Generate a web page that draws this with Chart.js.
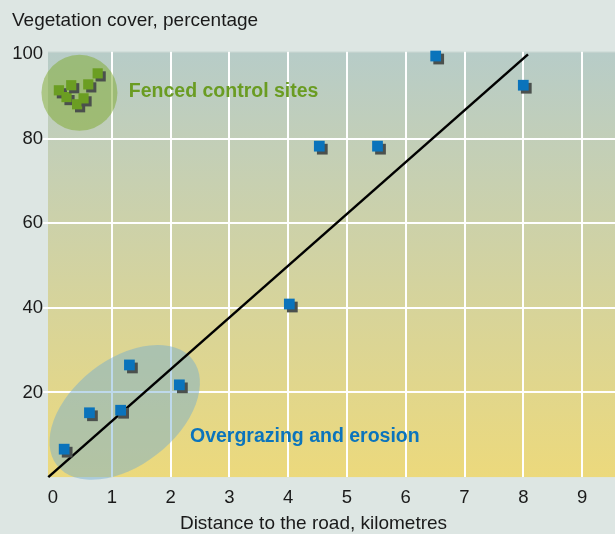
<!DOCTYPE html>
<html>
<head>
<meta charset="utf-8">
<script src="https://cdn.jsdelivr.net/npm/chart.js@4/dist/chart.umd.min.js"></script>
<style>
  html, body { margin: 0; padding: 0; background: #dde6e3; }
  canvas { display: block; }
</style>
</head>
<body>
<canvas id="chart" width="615" height="534"></canvas>
<script>
// fenced control sites (green)
const fencedX = [0.10, 0.23, 0.31, 0.41, 0.52, 0.60, 0.76];
const fencedY = [91.4, 89.8, 92.6, 88.1, 89.5, 92.8, 95.4];

// sites along the road (blue)
const roadX = [0.19, 0.62, 1.15, 1.30, 2.15, 4.02, 4.53, 5.52, 6.51, 8.00];
const roadY = [6.6, 15.2, 15.8, 26.5, 21.8, 40.9, 78.2, 78.2, 99.5, 92.6];

// fitted line
const trendX = [-0.08, 8.08];
const trendY = [0, 99.9];

const xTicks = [0, 1, 2, 3, 4, 5, 6, 7, 8, 9];
const yTicks = [20, 40, 60, 80, 100];

const FONT = "'Liberation Sans', Arial, sans-serif";

const toPoints = (xs, ys) => xs.map((x, i) => ({ x: x, y: ys[i] }));

// shaded zones, centre in data units, radii in pixels
const zones = [
    { x: 0.45, y: 90.8, rx: 38, ry: 38, angle: 0, fill: 'rgba(128,170,50,0.52)' },
    { x: 1.22, y: 15.3, rx: 86, ry: 53, angle: -38, fill: 'rgba(110,170,210,0.45)' }
];

const notes = [
    { text: 'Fenced control sites', x: 1.29, y: 91, color: '#6a9c22' },
    { text: 'Overgrazing and erosion', x: 2.33, y: 9.5, color: '#0b74bc' }
];

const backdrop = {
    id: 'backdrop',
    beforeDraw(chart) {
        const { ctx, chartArea: a } = chart;
        ctx.save();
        ctx.fillStyle = '#dde6e3';
        ctx.fillRect(0, 0, chart.width, chart.height);
        const g = ctx.createLinearGradient(0, a.top, 0, a.bottom);
        g.addColorStop(0, '#b7ccc8');
        g.addColorStop(1, '#ecd97c');
        ctx.fillStyle = g;
        ctx.fillRect(a.left, a.top, a.right - a.left, a.bottom - a.top);
        ctx.fillStyle = '#c6d4d0';
        ctx.fillRect(a.left, a.top, a.right - a.left, 1);
        ctx.restore();
    }
};

const overlays = {
    id: 'overlays',
    beforeDatasetsDraw(chart) {
        const { ctx, scales: { x, y } } = chart;
        ctx.save();
        zones.forEach(z => {
            ctx.beginPath();
            ctx.ellipse(x.getPixelForValue(z.x), y.getPixelForValue(z.y), z.rx, z.ry, z.angle * Math.PI / 180, 0, Math.PI * 2);
            ctx.fillStyle = z.fill;
            ctx.fill();
        });
        ctx.restore();
    },
    afterDatasetsDraw(chart) {
        const { ctx, scales: { x, y } } = chart;
        ctx.save();
        ctx.font = `bold 19.5px ${FONT}`;
        ctx.textBaseline = 'middle';
        notes.forEach(n => {
            ctx.fillStyle = n.color;
            ctx.fillText(n.text, x.getPixelForValue(n.x), y.getPixelForValue(n.y));
        });
        ctx.restore();
    }
};

const shadow = {
    id: 'shadow',
    beforeDatasetDraw(chart, args) {
        if (args.meta.type !== 'scatter') return;
        const ctx = chart.ctx;
        ctx.save();
        ctx.shadowColor = '#4b504d';
        ctx.shadowOffsetX = 3;
        ctx.shadowOffsetY = 3;
        ctx.shadowBlur = 0;
    },
    afterDatasetDraw(chart, args) {
        if (args.meta.type === 'scatter') chart.ctx.restore();
    }
};

const gridColor = c => (c.tick && (c.tick.value === 0 || c.tick.value === 100)) ? 'rgba(0,0,0,0)' : '#ffffff';

new Chart(document.getElementById('chart'), {
    type: 'scatter',
    data: {
        datasets: [
            {
                label: 'Fenced control sites',
                data: toPoints(fencedX, fencedY),
                backgroundColor: '#6b9e22',
                pointStyle: 'rect',
                pointRadius: 7.2,
                borderWidth: 0,
                clip: false,
                order: 1
            },
            {
                label: 'Along the road',
                data: toPoints(roadX, roadY),
                backgroundColor: '#0a73bb',
                pointStyle: 'rect',
                pointRadius: 7.6,
                borderWidth: 0,
                clip: false,
                order: 1
            },
            {
                type: 'line',
                label: 'Trend',
                data: toPoints(trendX, trendY),
                borderColor: '#000000',
                borderWidth: 2.5,
                pointRadius: 0,
                clip: false,
                order: 2
            }
        ]
    },
    options: {
        responsive: false,
        animation: false,
        devicePixelRatio: 1,
        layout: { autoPadding: false, padding: { left: 12, right: 0, top: 0, bottom: 0 } },
        plugins: {
            legend: { display: false },
            tooltip: { enabled: false },
            title: {
                display: true,
                text: 'Vegetation cover, percentage',
                align: 'start',
                color: '#1a1a1a',
                font: { family: FONT, size: 19, weight: 'normal' },
                padding: { top: 9, bottom: 20 }
            },
            subtitle: {
                display: true,
                position: 'bottom',
                text: 'Distance to the road, kilometres',
                align: 'center',
                color: '#1a1a1a',
                font: { family: FONT, size: 19, weight: 'normal', lineHeight: 1.1 },
                padding: { top: 0, bottom: 0 }
            }
        },
        scales: {
            x: {
                type: 'linear',
                min: -0.085,
                max: 9.56,
                afterBuildTicks: s => { s.ticks = xTicks.map(v => ({ value: v })); },
                afterFit: s => { s.paddingLeft = 0; s.paddingRight = 0; s.height = 36; },
                grid: { color: gridColor, lineWidth: 2, drawTicks: false },
                border: { display: false },
                ticks: {
                    color: '#1a1a1a',
                    font: { family: FONT, size: 18.5 },
                    padding: 10,
                    maxRotation: 0,
                    autoSkip: false
                }
            },
            y: {
                min: 0,
                max: 100.5,
                afterBuildTicks: s => { s.ticks = yTicks.map(v => ({ value: v })); },
                afterFit: s => { s.width = 36; },
                grid: { color: gridColor, lineWidth: 2, tickLength: 5 },
                border: { display: false },
                ticks: {
                    color: '#1a1a1a',
                    font: { family: FONT, size: 18.5 },
                    padding: 0
                }
            }
        }
    },
    plugins: [backdrop, shadow, overlays]
});
</script>
</body>
</html>
